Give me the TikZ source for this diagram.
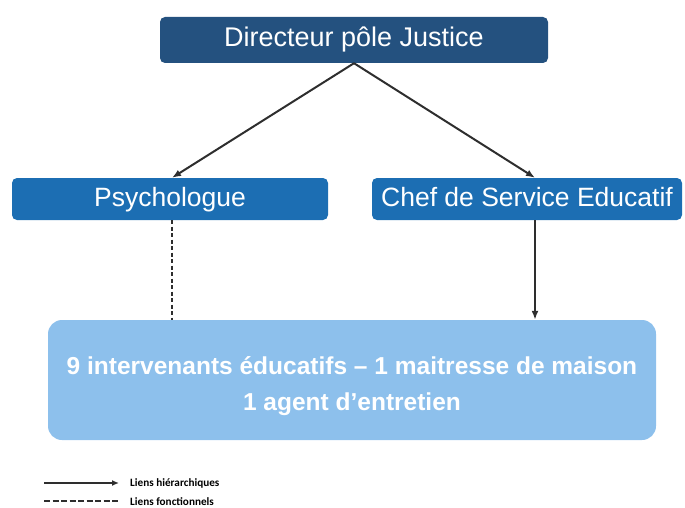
\documentclass[tikz,border=0pt]{standalone}
\usepackage{fontspec}
\setmainfont{Liberation Sans}
\newfontfamily\legfont{Carlito}
\usepackage{tikz}
\usetikzlibrary{arrows.meta, calc}
\definecolor{navy}{HTML}{24517F}
\definecolor{midblue}{HTML}{1C6EB3}
\definecolor{lightblue}{HTML}{8DC0EC}
\definecolor{linegray}{HTML}{2E2E2E}

\begin{document}
\begin{tikzpicture}[x=1pt, y=-1pt,
  box/.style={rounded corners=5pt, text=white, inner sep=0pt, text height=19pt, text depth=5pt,
    font=\fontsize{26.5}{30}\selectfont},
  hier/.style={draw=linegray, line width=2pt, -{Latex[length=9pt,width=7pt]}},
  fonc/.style={draw=linegray, line width=2.2pt, dash pattern=on 4pt off 2.5pt}]
\useasboundingbox (0,0) rectangle (685,508);
\node[box, fill=navy, minimum width=388pt, minimum height=46pt, font=\fontsize{27}{30}\selectfont] (dir) at (354,40) {Directeur pôle Justice};
\node[box, fill=midblue, minimum width=316pt, minimum height=42pt] (psy) at (170,199) {Psychologue};
\node[box, fill=midblue, minimum width=310pt, minimum height=42pt] (chef) at (527,199) {Chef de Service Educatif};
\node[fill=lightblue, rounded corners=14pt, minimum width=608pt, minimum height=120pt, text=white,
  align=center, text height=66pt, text depth=6pt, inner sep=0pt,
  font=\bfseries\fontsize{24.5}{36}\selectfont] (equipe) at (352,380)
  {9 intervenants éducatifs -- 1 maitresse de maison\\1 agent d’entretien};
% liens
\draw[hier] (dir.south) -- ([xshift=2pt]psy.north);
\draw[hier] (dir.south) -- ([xshift=8pt]chef.north);
\draw[hier] ([xshift=8pt]chef.south) -- ([xshift=8pt]chef.south |- equipe.north);
\draw[fonc] ([xshift=2pt]psy.south) -- ([xshift=2pt]psy.south |- equipe.north);
% legende
\coordinate (h1) at (44,483);
\coordinate (h2) at (119,483);
\coordinate (f1) at (44,501);
\coordinate (f2) at (119,501);
\draw[hier, line width=2pt, -{Latex[length=7pt,width=6pt]}] (h1) -- (h2);
\draw[fonc, line width=2pt, dash pattern=on 6pt off 2.5pt] (f1) -- (f2);
\node[anchor=west, font=\legfont\bfseries\fontsize{11.2}{13}\selectfont, inner sep=0pt] (lh) at (130,483) {Liens hiérarchiques};
\node[anchor=west, font=\legfont\bfseries\fontsize{11.2}{13}\selectfont, inner sep=0pt] (lf) at (130,502) {Liens fonctionnels};
\end{tikzpicture}
\end{document}
